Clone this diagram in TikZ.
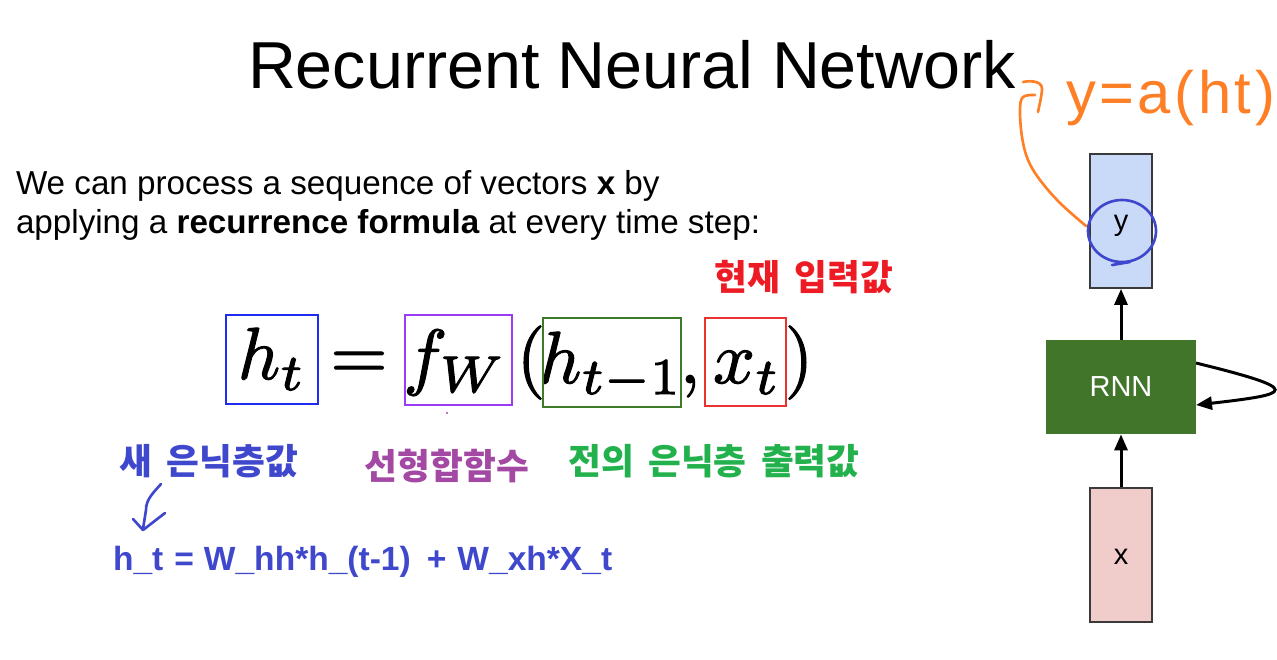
\documentclass[tikz,border=0pt]{standalone}
\usepackage{fontspec}
\setmainfont{Liberation Sans}
\newfontfamily\kr{Noto Sans CJK KR}
\usetikzlibrary{arrows.meta}
\definecolor{pblue}{HTML}{3F48CC}
\definecolor{ppurple}{HTML}{A349A4}
\definecolor{pgreen}{HTML}{22B14C}
\definecolor{pred}{HTML}{ED1C24}
\definecolor{porange}{HTML}{FF7F27}
\definecolor{boxblue}{HTML}{1E2BF0}
\definecolor{boxpurple}{HTML}{9B3BF5}
\definecolor{boxgreen}{HTML}{3F7A2A}
\definecolor{boxred}{HTML}{E8332F}
\definecolor{ylight}{HTML}{C9DAF8}
\definecolor{xlight}{HTML}{F0CCCB}
\definecolor{rnngreen}{HTML}{41752A}
\definecolor{edgegrey}{HTML}{3A3A3A}
\newcommand\mybigmath[1]{\scalebox{4.2}{\special{pdf:literal direct 2 Tr 0.14 w}$#1$\special{pdf:literal direct 0 Tr}}}
\newcommand\krsp{\hspace{0.4em}}
\tikzset{
  txt/.style={inner sep=0pt, outer sep=0pt},
  hlbox/.style={line width=1.4pt},
  vecbox/.style={draw=edgegrey, line width=1pt, minimum width=62*0.02cm, minimum height=134*0.02cm, inner sep=0pt},
  conn/.style={line width=1.7pt, -{Triangle[length=0.32cm,width=0.26cm]}},
  hand/.style={line width=1.5pt, line cap=round, line join=round},
  krlabel/.style={txt, font=\kr\bfseries\fontsize{20.3}{22}\selectfont}
}
\begin{document}
\begin{tikzpicture}[x=0.02cm,y=-0.02cm]
\fill[white] (0,0) rectangle (1277,659);
\useasboundingbox (0,0) rectangle (1277,659);

% title
\node[txt, anchor=base west] (title) at (248,88) {\fontsize{37.8}{40}\selectfont Recurrent Neural Network};

% paragraph
\node[txt, anchor=base west] (line1) at (16,194) {\fontsize{18.9}{22}\selectfont We can process a sequence of vectors \textbf{x} by};
\node[txt, anchor=base west] (line2) at (16,233) {\fontsize{18.9}{22}\selectfont applying a \textbf{recurrence formula} at every time step:};

% formula pieces
\node[txt, anchor=base] (ht) at (272,379) {\mybigmath{h_t}};
\node[txt, anchor=base] (eq) at (359,379) {\mybigmath{=}};
\node[txt, anchor=base] (fw) at (455,381) {\mybigmath{f_W}};
\node[txt, anchor=base] (lp) at (531,381) {\mybigmath{(}};
\node[txt, anchor=base] (htm) at (611,383) {\mybigmath{h_{t-1}}};
\node[txt, anchor=base] (comma) at (690,383) {\mybigmath{,}};
\node[txt, anchor=base] (xt) at (747,383) {\mybigmath{x_t}};
\node[txt, anchor=base] (rp) at (799,381) {\mybigmath{)}};

% highlight boxes
\draw[hlbox, boxblue] (226,315) rectangle (318,404);
\draw[hlbox, boxpurple] (405,315) rectangle (512,405);
\draw[hlbox, boxgreen] (543,318) rectangle (681,407);
\draw[hlbox, boxred] (705,318) rectangle (786,406);
\fill[ppurple] (447,413) circle (1.2);

% korean labels
\node[krlabel, text=pred] (curin) at (804,277) {현재\krsp 입력값};
\node[krlabel, text=pblue] (newh) at (209,461) {새\krsp 은닉층값};
\node[krlabel, text=ppurple] (linf) at (447,466) {선형합함수};
\node[krlabel, text=pgreen] (prevh) at (714,461) {전의\krsp 은닉층\krsp 출력값};

% blue hand arrow
\draw[hand, pblue] (161,484) .. controls (152,494) and (146,500) .. (146,510) -- (143,529);
\draw[hand, pblue] (133,519) -- (143,530) -- (165,513);

% blue formula
\node[txt, anchor=base west, text=pblue] (rnnf) at (113,570) {\fontsize{19.1}{22}\selectfont\bfseries h\_t\hspace{0.22cm}=\hspace{0.2cm}W\_hh*h\_(t-1)\hspace{0.32cm}+\hspace{0.22cm}W\_xh*X\_t};

% RNN diagram
\node[vecbox, fill=ylight] (ybox) at (1121,221) {};
\node[txt, font=\fontsize{16.5}{18}\selectfont] (ylab) at (1121,226) {y};
\node[fill=rnngreen, minimum width=150*0.02cm, minimum height=94*0.02cm, inner sep=0pt, text=white, font=\fontsize{16.5}{18}\selectfont] (rnn) at (1121,387) {RNN};
\node[vecbox, fill=xlight] (xbox) at (1121,555) {};
\node[txt, font=\fontsize{16.5}{18}\selectfont] (xlab) at (1121,557) {x};
\draw[conn] (xbox.north) -- (rnn.south);
\draw[conn] (rnn.north) -- (ybox.south);
\coordinate (loopout) at (1196,363);
\coordinate (loopin) at (1196,405);
\draw[conn] (loopout) .. controls (1306,390) and (1292,394) .. (loopin);

% annotations
\draw[hand, pblue] (1122,231) ellipse (34 and 31);
\draw[hand, pblue] (1112,265) -- (1130,262);
\node[txt, anchor=base west, text=porange] (ann) at (1066,113) {\fontsize{34}{38}\selectfont\addfontfeature{LetterSpace=6}y=a(ht)};
\draw[hand, porange] (1023,82) .. controls (1033,80) and (1043,82) .. (1042,90) .. controls (1041,100) and (1039,106) .. (1038,112);
\draw[hand, porange] plot[smooth, tension=0.6] coordinates {(1035,95) (1023,97) (1020,110) (1022,137) (1028,160) (1040,180) (1060,203) (1086,226)};
\end{tikzpicture}
\end{document}
